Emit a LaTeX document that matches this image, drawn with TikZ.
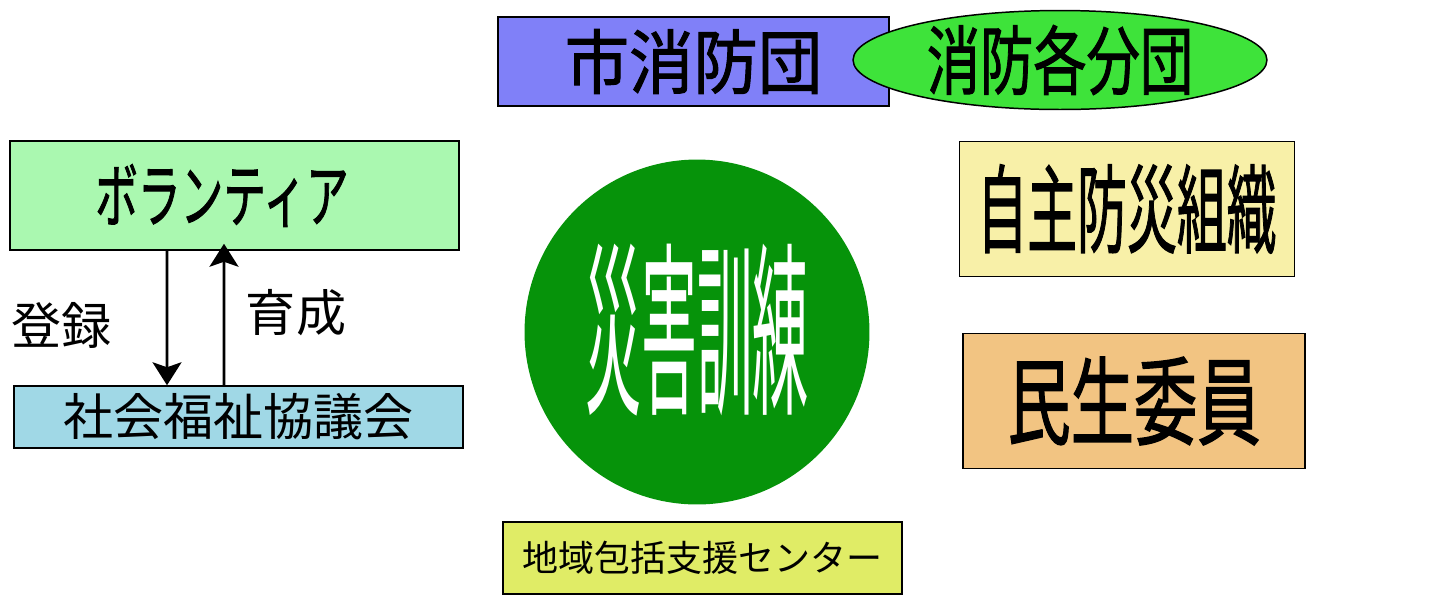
\documentclass[tikz,border=0pt]{standalone}
\usepackage{fontspec}
\usepackage{graphicx}
\usetikzlibrary{shapes.geometric,arrows.meta}
\newfontfamily\jp{Noto Sans CJK JP}
\newfontfamily\jpb[FakeBold=1.5]{Noto Sans CJK JP}
\newcommand{\jt}[3]{\scalebox{#2}[1]{\fontsize{#1}{#1}\selectfont\jp #3}}
\newcommand{\jtb}[3]{\scalebox{#2}[1]{\fontsize{#1}{#1}\selectfont\jpb #3}}
\definecolor{cShobo}{HTML}{8080F8}
\definecolor{cBundan}{HTML}{3EE33A}
\definecolor{cVol}{HTML}{AAF8B0}
\definecolor{cShakyo}{HTML}{A0D8E6}
\definecolor{cCircle}{HTML}{06930A}
\definecolor{cJishu}{HTML}{F8F0A8}
\definecolor{cMinsei}{HTML}{F2C482}
\definecolor{cChiiki}{HTML}{E0EC66}
\tikzset{
  boxnode/.style={draw=black, line width=0.85pt, inner sep=0pt, text=black},
  conn/.style={line width=1.5pt, -{Stealth[length=0.46cm,width=0.58cm,inset=0.1cm]}},
  lbl/.style={inner sep=0pt, text=black}
}
\begin{document}
\begin{tikzpicture}[x=0.02cm,y=-0.02cm]
\useasboundingbox (0,0) rectangle (1434,596);
% 市消防団
\node[boxnode, fill=cShobo, minimum width=7.82cm, minimum height=1.78cm] (shobo) at (693.5,61.5) {\jtb{39.8pt}{0.92}{市消防団}};
% 消防各分団
\node[boxnode, ellipse, fill=cBundan, minimum width=8.28cm, minimum height=1.88cm] (bundan) at (1060,60) {\jtb{42.7pt}{0.71}{消防各分団}};
% ボランティア
\node[boxnode, fill=cVol, minimum width=8.98cm, minimum height=2.18cm] (vol) at (234.5,195.5) {\hspace*{-0.5cm}\jtb{39.8pt}{0.61}{ボランティア}};
% 社会福祉協議会
\node[boxnode, fill=cShakyo, minimum width=8.98cm, minimum height=1.24cm] (shakyo) at (238.5,417) {\jt{28.5pt}{1}{社会福祉協議会}};
% 災害訓練
\node[circle, fill=cCircle, minimum size=6.9cm, inner sep=0pt, text=white] (kunren) at (697,332) {\raisebox{0.4cm}{\jt{106pt}{0.30}{災害訓練}}};
% 自主防災組織
\node[boxnode, fill=cJishu, minimum width=6.7cm, minimum height=2.7cm] (jishu) at (1127,209) {\jtb{54.6pt}{0.52}{自主防災組織}};
% 民生委員
\node[boxnode, fill=cMinsei, minimum width=6.84cm, minimum height=2.7cm] (minsei) at (1134,401) {\jtb{54.6pt}{0.66}{民生委員}};
% 地域包括支援センター
\node[boxnode, fill=cChiiki, minimum width=7.98cm, minimum height=1.44cm] (chiiki) at (702.5,558) {\jt{20.5pt}{1}{地域包括支援センター}};
% labels
\node[lbl] (toroku) at (62,325) {\jt{28.5pt}{1}{登録}};
\node[lbl] (ikusei) at (296,313) {\jt{28.5pt}{1}{育成}};
% arrows
\draw[conn] ([xshift=-1.35cm]vol.south) -- ([xshift=-1.43cm]shakyo.north);
\draw[conn] ([xshift=-0.29cm]shakyo.north) -- ([xshift=-0.21cm,yshift=0.14cm]vol.south);
\end{tikzpicture}
\end{document}
